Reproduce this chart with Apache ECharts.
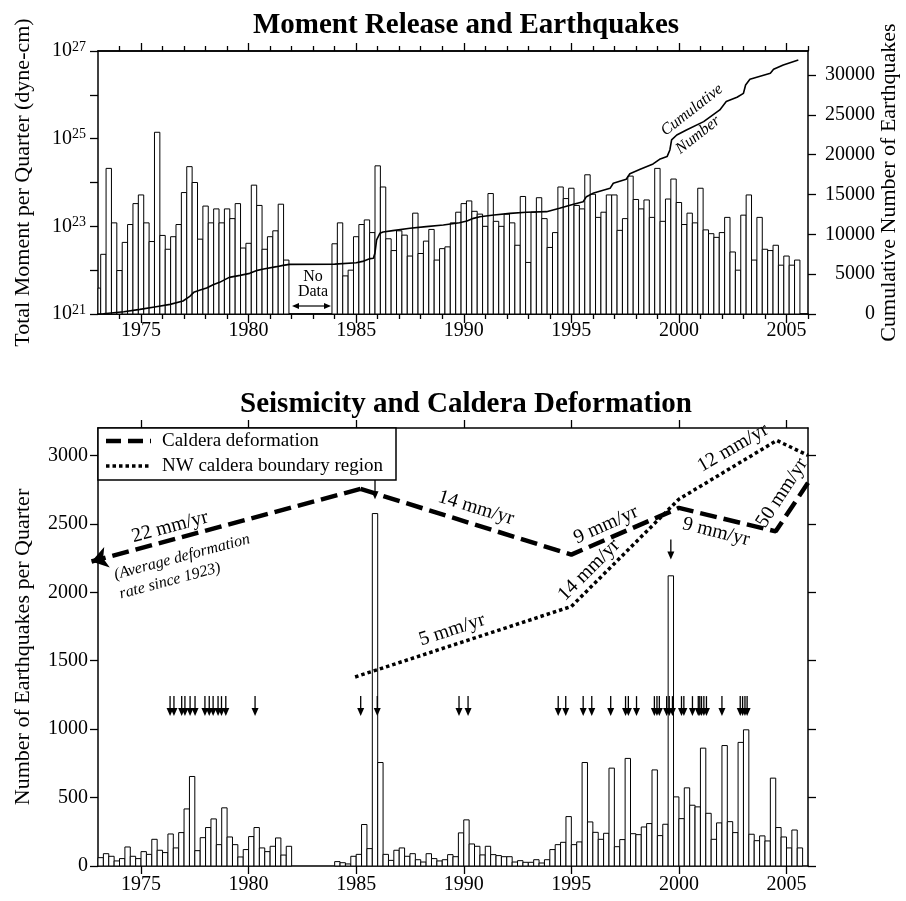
<!DOCTYPE html>
<html><head><meta charset="utf-8">
<script src="https://cdn.jsdelivr.net/npm/echarts@6/dist/echarts.min.js"></script>
<style>html,body{margin:0;padding:0;background:#fff}#c{width:906px;height:901px}</style>
</head><body><div id="c"></div>
<script>
// ================= DATA =================
// Quarterly records start 1973.0 (Q1) and resume 1984.0 after the no-data gap.
const segmentStarts = [1973.0, 1984.0];

// Total seismic moment per quarter (dyne-cm), 1973 Q1 - 1981 Q4
const momentPre = [3.9e21, 2.3e22, 2.1e24, 1.2e23, 9.8e21, 4.3e22, 1.1e23, 3.3e23,
  5.2e23, 1.2e23, 4.5e22, 1.4e25, 6.2e22, 3.0e22, 5.8e22, 1.1e23,
  5.9e23, 2.3e24, 1.0e24, 5.1e22, 2.9e23, 1.2e23, 2.5e23, 1.2e23,
  2.5e23, 1.5e23, 3.3e23, 3.2e22, 4.1e22, 8.7e23, 3.0e23, 3.0e22,
  5.8e22, 7.9e22, 3.2e23, 1.7e22];
// 1984 Q1 - 2005 Q3
const momentPost = [4.0e22, 1.2e23, 7.4e21, 1.0e22, 5.8e22, 1.1e23, 1.4e23, 7.2e22,
  2.4e24, 7.9e23, 5.2e22, 2.8e22, 7.9e22, 6.3e22, 2.1e22, 2.0e23,
  2.4e22, 4.6e22, 8.5e22, 1.7e22, 3.1e22, 3.4e22, 1.2e23, 2.1e23,
  3.3e23, 3.8e23, 2.2e23, 1.9e23, 1.0e23, 5.6e23, 1.3e23, 1.0e23,
  1.9e23, 1.2e23, 3.7e22, 4.8e23, 1.5e22, 2.1e23, 4.5e23, 1.5e23,
  3.3e22, 7.2e22, 7.9e23, 4.3e23, 7.4e23, 3.0e23, 2.5e23, 1.5e24,
  5.4e23, 1.6e23, 2.1e23, 5.2e23, 5.2e23, 8.1e22, 1.5e23, 1.4e24,
  4.1e23, 2.5e23, 4.0e23, 1.6e23, 2.1e24, 1.3e23, 4.2e23, 1.2e24,
  3.5e23, 1.1e23, 2.0e23, 1.2e23, 7.4e23, 8.3e22, 6.8e22, 5.6e22,
  7.2e22, 1.6e23, 2.6e22, 1.0e22, 1.8e23, 5.2e23, 1.7e22, 1.6e23,
  3.0e22, 2.8e22, 3.7e22, 1.3e22, 2.1e22, 1.3e22, 1.7e22];

// Number of earthquakes per quarter
const countPre = [61, 90, 71, 37, 54, 139, 71, 54, 105, 85, 195, 115, 98, 234, 132, 244,
  417, 654, 112, 207, 281, 344, 156, 425, 212, 156, 66, 120, 215, 281, 132, 105,
  144, 205, 80, 144];
const countPost = [32, 24, 15, 71, 85, 303, 127, 2575, 756, 85, 41, 115, 132, 71, 90, 46,
  29, 90, 54, 37, 46, 83, 68, 242, 337, 161, 144, 81, 144, 83, 76, 68,
  68, 29, 39, 27, 27, 46, 22, 46, 120, 156, 173, 361, 156, 176, 756, 322,
  246, 195, 239, 715, 141, 193, 786, 236, 229, 285, 310, 702, 222, 305, 2120, 505,
  346, 571, 444, 432, 861, 385, 195, 315, 880, 324, 244, 903, 995, 232, 185, 220,
  183, 642, 281, 212, 132, 263, 132];

// Cumulative number of earthquakes
const cumYear = [1973.0, 1973.25, 1974.2, 1974.95, 1975.7, 1976.35, 1976.95, 1977.25, 1977.45, 1977.75,
  1978.05, 1978.35, 1978.65, 1979.1, 1979.6, 1980.05, 1980.35, 1980.7, 1981.3, 1981.6, 1981.9,
  1984.0, 1985.0, 1985.3, 1985.65, 1985.8, 1985.87, 1985.95, 1986.1, 1986.25, 1986.7, 1987.5,
  1988.25, 1989.05, 1989.8, 1990.15, 1990.45, 1990.75, 1991.4, 1992.15, 1992.9, 1993.85, 1994.45,
  1995.1, 1995.55, 1995.7, 1996.0, 1996.8, 1996.95, 1997.55, 1997.72, 1998.2, 1998.8, 1999.1,
  1999.45, 1999.58, 1999.66, 1999.9, 2000.35, 2001.15, 2001.9, 2002.2, 2002.7, 2003.0, 2003.1,
  2003.3, 2004.25, 2004.4, 2004.85, 2005.55];
const cumCount = [0, 30, 290, 580, 920, 1210, 1630, 2170, 2720, 3010,
  3260, 3680, 3970, 4600, 4850, 5100, 5440, 5650, 5940, 6100, 6230,
  6260, 6440, 6600, 6950, 7000, 7610, 9290, 10120, 10290, 10460, 10750,
  10960, 11170, 11460, 11670, 12000, 12210, 12420, 12630, 12760, 12840, 13260,
  13760, 14090, 14720, 15140, 15770, 16400, 16900, 17600, 18150, 18830, 19410,
  19750, 20580, 21840, 22460, 23090, 24140, 25600, 26650, 27190, 27690, 28740,
  29450, 30200, 30700, 31250, 31880];

// Swarm times (arrows)
const swarmTimes = [1976.35, 1976.53, 1976.89, 1977.04, 1977.28, 1977.51, 1977.97, 1978.17,
  1978.35, 1978.58, 1978.74, 1978.94, 1980.30, 1985.21, 1985.98, 1989.78, 1990.20,
  1994.39, 1994.74, 1995.55, 1995.95, 1996.83, 1997.52, 1997.65, 1998.03, 1998.86,
  1998.98, 1999.09, 1999.43, 1999.55, 1999.70, 2000.12, 2000.23, 2000.63, 2000.90,
  2000.97, 2001.05, 2001.16, 2001.28, 2002.00, 2002.85, 2002.96, 2003.07, 2003.17];
// Arrows pointing at the two large swarms: [time, count level of arrow tip]
const spikeArrows = [[1985.875, 2680], [1999.625, 2240]];

// Caldera deformation (dashed) and NW caldera boundary region (dotted), in count-axis units
const calderaYear = [1972.7, 1985.2, 1995.0, 2000.0, 2004.5, 2006.0];
const calderaLevel = [2225, 2755, 2275, 2616, 2445, 2800];
const nwYear = [1984.95, 1995.0, 2000.0, 2004.55, 2006.0];
const nwLevel = [1381, 1896, 2680, 3109, 3000];

// Axis ticks
const yearMajor = [1975, 1980, 1985, 1990, 1995, 2000, 2005];
const yearMinor = [1974, 1976, 1977, 1978, 1979, 1981, 1982, 1983, 1984, 1986, 1987, 1988, 1989,
  1991, 1992, 1993, 1994, 1996, 1997, 1998, 1999, 2001, 2002, 2003, 2004, 2006];
const momentTicks = [1e21, 1e22, 1e23, 1e24, 1e25, 1e26, 1e27];
const momentLabels = [1e21, 1e23, 1e25, 1e27];
const cumTicks = [0, 5000, 10000, 15000, 20000, 25000, 30000];
const countTicks = [0, 500, 1000, 1500, 2000, 2500, 3000];

// ================= BUILD =================
function quarterTimes(start, n) { const a = []; for (let i = 0; i < n; i++) a.push(start + 0.25 * i); return a; }
const tPre = quarterTimes(segmentStarts[0], momentPre.length);
const tPost = quarterTimes(segmentStarts[1], momentPost.length);
const momentData = tPre.map((t, i) => [t, momentPre[i]]).concat(tPost.map((t, i) => [t, momentPost[i]]));
const countData = tPre.map((t, i) => [t, countPre[i]]).concat(tPost.map((t, i) => [t, countPost[i]]));
const cumData = cumYear.map((t, i) => [t, cumCount[i]]);
const calderaData = calderaYear.slice(1).map((t, i) => [t, calderaLevel[i + 1]]);
const nwData = nwYear.map((t, i) => [t, nwLevel[i]]);

const FONT = "'Liberation Serif','Times New Roman',serif";
const TICKFS = 20;

function barItem(lo, hi, base) {
  return function (params, api) {
    const t = api.value(0), v = api.value(1);
    const a = api.coord([t + lo, v]);
    const b = api.coord([t + hi, base]);
    const cs = params.coordSys;
    const r = echarts.graphic.clipRectByRect(
      { x: a[0], y: a[1], width: b[0] - a[0], height: b[1] - a[1] },
      { x: cs.x, y: cs.y, width: cs.width, height: cs.height });
    if (!r) return null;
    return { type: 'rect', shape: r, style: { fill: '#fff', stroke: '#000', lineWidth: 1 } };
  };
}
function arrowItem(params, api) {
  const p = api.coord([api.value(0), api.value(1)]);
  const x = p[0], y = p[1];
  return { type: 'group', children: [
    { type: 'line', shape: { x1: x, y1: y - 20, x2: x, y2: y - 6 }, style: { stroke: '#000', lineWidth: 1.3 } },
    { type: 'polygon', shape: { points: [[x - 3.5, y - 8], [x + 3.5, y - 8], [x, y]] }, style: { fill: '#000' } }
  ] };
}
const ARROW_ROW = 1095;

function xAxis(grid, pos, ticks, len, labels) {
  return {
    type: 'value', gridIndex: grid, position: pos, min: 1973, max: 2006,
    axisLine: { show: true, onZero: false, lineStyle: { color: '#000', width: 1.5 } },
    axisTick: { show: true, customValues: ticks, length: len, lineStyle: { color: '#000', width: 1.3 } },
    axisLabel: { show: labels, customValues: yearMajor, color: '#000', fontFamily: FONT, fontSize: TICKFS,
      margin: pos === 'bottom' && grid === 1 ? 9 : 7, formatter: v => String(v) },
    splitLine: { show: false }
  };
}
const axisNameStyle = { color: '#000', fontFamily: FONT, fontSize: 22 };
const plain = v => String(v);

const option = {
  animation: false,
  backgroundColor: '#fff',
  title: [
    { text: 'Moment Release and Earthquakes', left: 461, top: 6, textAlign: 'center',
      textStyle: { fontFamily: FONT, fontSize: 29, fontWeight: 'bold', color: '#000' } },
    { text: 'Seismicity and Caldera Deformation', left: 461, top: 385, textAlign: 'center',
      textStyle: { fontFamily: FONT, fontSize: 29, fontWeight: 'bold', color: '#000' } }
  ],
  grid: [
    { left: 98, top: 51, width: 710, height: 263, outerBoundsMode: 'none', containLabel: false },
    { left: 98, top: 428, width: 710, height: 438, outerBoundsMode: 'none', containLabel: false }
  ],
  xAxis: [
    xAxis(0, 'bottom', yearMajor, 9, true),
    xAxis(0, 'bottom', yearMinor, 5, false),
    xAxis(0, 'top', yearMajor, 8, false),
    xAxis(0, 'top', yearMinor, 5, false),
    xAxis(1, 'bottom', yearMajor, 8, true),
    xAxis(1, 'top', yearMajor, 8, false)
  ],
  yAxis: [
    { type: 'log', logBase: 10, gridIndex: 0, position: 'left', min: 1e21, max: 1.0005e27,
      name: 'Total Moment per Quarter (dyne-cm)', nameLocation: 'middle', nameRotate: 90, nameGap: 64,
      nameMoveOverlap: false, nameTextStyle: axisNameStyle,
      axisLine: { show: true, lineStyle: { color: '#000', width: 1.5 } },
      axisTick: { show: true, customValues: momentTicks, length: 8, lineStyle: { color: '#000', width: 1.3 } },
      axisLabel: { customValues: momentLabels, margin: 12, color: '#000', showMaxLabel: true, showMinLabel: true,
        formatter: v => '{b|10}{s|' + Math.round(Math.log10(v)) + '}',
        rich: { b: { fontFamily: FONT, fontSize: TICKFS, lineHeight: 22, color: '#000' },
                s: { fontFamily: FONT, fontSize: 14, lineHeight: 22, verticalAlign: 'top', color: '#000' } } },
      splitLine: { show: false } },
    { type: 'value', gridIndex: 0, position: 'right', min: 0, max: 33000,
      name: 'Cumulative Number of Earthquakes', nameLocation: 'middle', nameRotate: 90, nameGap: 70,
      nameMoveOverlap: false, nameTextStyle: axisNameStyle,
      axisLine: { show: true, lineStyle: { color: '#000', width: 1.5 } },
      axisTick: { show: true, customValues: cumTicks, length: 8, lineStyle: { color: '#000', width: 1.3 } },
      axisLabel: { customValues: cumTicks, margin: 67, align: 'right', color: '#000', fontFamily: FONT, fontSize: TICKFS, formatter: plain },
      splitLine: { show: false } },
    { type: 'value', gridIndex: 1, position: 'left', min: 0, max: 3200,
      name: 'Number of Earthquakes per Quarter', nameLocation: 'middle', nameRotate: 90, nameGap: 64,
      nameMoveOverlap: false, nameTextStyle: axisNameStyle,
      axisLine: { show: true, lineStyle: { color: '#000', width: 1.5 } },
      axisTick: { show: true, customValues: countTicks, length: 8, lineStyle: { color: '#000', width: 1.3 } },
      axisLabel: { customValues: countTicks, margin: 10, color: '#000', fontFamily: FONT, fontSize: TICKFS, formatter: plain },
      splitLine: { show: false } },
    { type: 'value', gridIndex: 1, position: 'right', min: 0, max: 3200,
      axisLine: { show: true, lineStyle: { color: '#000', width: 1.5 } },
      axisTick: { show: true, customValues: countTicks, length: 8, lineStyle: { color: '#000', width: 1.3 } },
      axisLabel: { show: false },
      splitLine: { show: false } }
  ],
  series: [
    { type: 'custom', name: 'Moment', xAxisIndex: 0, yAxisIndex: 0, data: momentData,
      encode: { x: 0, y: 1 }, renderItem: barItem(-0.125, 0.125, 1e21), z: 2, silent: true },
    { type: 'line', name: 'Cumulative Number', xAxisIndex: 0, yAxisIndex: 1, data: cumData,
      showSymbol: false, symbol: 'none', lineStyle: { color: '#000', width: 1.6 }, z: 3, silent: true },
    { type: 'custom', name: 'Earthquakes', xAxisIndex: 4, yAxisIndex: 2, data: countData,
      encode: { x: 0, y: 1 }, renderItem: barItem(0, 0.25, 0), z: 2, silent: true },
    { type: 'line', name: 'Caldera deformation', xAxisIndex: 4, yAxisIndex: 2, data: calderaData,
      showSymbol: false, symbol: 'none', clip: false,
      lineStyle: { color: '#000', width: 4.5, type: [17, 7], cap: 'butt' }, z: 4, silent: true },
    { type: 'lines', name: 'Caldera deformation trend', coordinateSystem: 'cartesian2d', xAxisIndex: 4, yAxisIndex: 2,
      clip: false, polyline: false, symbol: ['none', 'arrow'], symbolSize: [13, 16],
      itemStyle: { color: '#000' },
      lineStyle: { color: '#000', width: 4.5, type: [17, 7], opacity: 1, curveness: 0 },
      data: [{ coords: [[calderaYear[1], calderaLevel[1]], [calderaYear[0], calderaLevel[0]]] }], z: 4, silent: true },
    { type: 'line', name: 'NW caldera boundary region', xAxisIndex: 4, yAxisIndex: 2, data: nwData,
      showSymbol: false, symbol: 'none', clip: false,
      lineStyle: { color: '#000', width: 3.5, type: [3.5, 3], cap: 'butt' }, z: 4, silent: true },
    { type: 'custom', name: 'Swarms', xAxisIndex: 4, yAxisIndex: 2,
      data: swarmTimes.map(t => [t, ARROW_ROW]), encode: { x: 0, y: 1 }, renderItem: arrowItem, z: 5, silent: true },
    { type: 'custom', name: 'Large swarms', xAxisIndex: 4, yAxisIndex: 2,
      data: spikeArrows, encode: { x: 0, y: 1 }, renderItem: arrowItem, z: 5, silent: true }
  ],
  graphic: [
    // Top panel annotations
    { type: 'text', x: 692, y: 110, rotation: 38 * Math.PI / 180, z: 10,
      style: { text: 'Cumulative', font: 'italic 16px ' + FONT, fill: '#000', align: 'center', verticalAlign: 'middle', textAlign: 'center', textVerticalAlign: 'middle' } },
    { type: 'text', x: 698, y: 135, rotation: 38 * Math.PI / 180, z: 10,
      style: { text: 'Number', font: 'italic 16px ' + FONT, fill: '#000', align: 'center', verticalAlign: 'middle', textAlign: 'center', textVerticalAlign: 'middle' } },
    { type: 'text', x: 313, y: 277, z: 10,
      style: { text: 'No', font: '16px ' + FONT, fill: '#000', align: 'center', verticalAlign: 'middle', textAlign: 'center', textVerticalAlign: 'middle' } },
    { type: 'text', x: 313, y: 292, z: 10,
      style: { text: 'Data', font: '16px ' + FONT, fill: '#000', align: 'center', verticalAlign: 'middle', textAlign: 'center', textVerticalAlign: 'middle' } },
    { type: 'line', z: 10, shape: { x1: 296, y1: 306, x2: 327, y2: 306 }, style: { stroke: '#000', lineWidth: 1.2 } },
    { type: 'polygon', z: 10, shape: { points: [[292, 306], [299, 303], [299, 309]] }, style: { fill: '#000' } },
    { type: 'polygon', z: 10, shape: { points: [[331, 306], [324, 303], [324, 309]] }, style: { fill: '#000' } },
    // Legend box (bottom panel)
    { type: 'rect', z: 10, shape: { x: 98, y: 428, width: 298, height: 52 }, style: { fill: '#fff', stroke: '#000', lineWidth: 1.5 } },
    { type: 'line', z: 11, shape: { x1: 106, y1: 441, x2: 151, y2: 441 }, style: { stroke: '#000', lineWidth: 4.5, lineDash: [15, 7] } },
    { type: 'text', z: 11, x: 162, y: 441,
      style: { text: 'Caldera deformation', font: '19px ' + FONT, fill: '#000', align: 'left', verticalAlign: 'middle', textAlign: 'left', textVerticalAlign: 'middle' } },
    { type: 'line', z: 11, shape: { x1: 106, y1: 466, x2: 151, y2: 466 }, style: { stroke: '#000', lineWidth: 3.5, lineDash: [3.5, 3] } },
    { type: 'text', z: 11, x: 162, y: 466,
      style: { text: 'NW caldera boundary region', font: '19px ' + FONT, fill: '#000', align: 'left', verticalAlign: 'middle', textAlign: 'left', textVerticalAlign: 'middle' } },
    // Rate labels
    ...[
      ['22 mm/yr', 170, 527, 15, '20px '],
      ['(Average deformation', 182, 557, 15, 'italic 16px '],
      ['rate since 1923)', 170, 581, 15, 'italic 16px '],
      ['14 mm/yr', 476, 508, -17, '20px '],
      ['9 mm/yr', 606, 525, 24, '20px '],
      ['5 mm/yr', 452, 630, 18, '20px '],
      ['14 mm/yr', 589, 570, 45, '20px '],
      ['12 mm/yr', 733, 448, 30, '20px '],
      ['9 mm/yr', 716, 532, -14, '20px '],
      ['50 mm/yr', 782, 493, 57, '20px ']
    ].map(a => ({ type: 'text', x: a[1], y: a[2], rotation: a[3] * Math.PI / 180, z: 10,
      style: { text: a[0], font: a[4] + FONT, fill: '#000', align: 'center', verticalAlign: 'middle', textAlign: 'center', textVerticalAlign: 'middle' } }))
  ]
};

const chart = echarts.init(document.getElementById('c'), null, { renderer: 'canvas' });
chart.setOption(option);
</script>
</body></html>
